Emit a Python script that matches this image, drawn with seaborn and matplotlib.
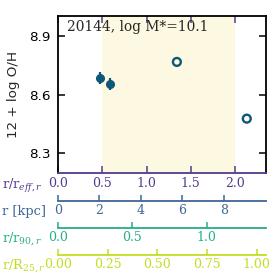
import numpy as np
import pandas as pd
import matplotlib
matplotlib.use("Agg")
import matplotlib.pyplot as plt
import seaborn as sns

# ---- data ----
filled_r = [0.474, 0.587]
filled_oh = [8.683, 8.654]
filled_err = [0.030, 0.031]
open_r = [1.343, 2.133]
open_oh = [8.766, 8.477]
label_text = "20144, log M*=10.1"
shade_range = [0.5, 2.0]
reff_ticks = [0.0, 0.5, 1.0, 1.5, 2.0]
kpc_ticks = [0, 2, 4, 6, 8]
r90_ticks = [0.0, 0.5, 1.0]
r25_ticks = [0.0, 0.25, 0.5, 0.75, 1.0]
oh_ticks = [8.3, 8.6, 8.9]
kpc_per_reff = 4.27
r90_per_reff = 0.5946
r25_per_reff = 0.4455

sns.set_style("ticks")
plt.rcParams['font.family'] = ['DejaVu Serif']
plt.rcParams['mathtext.fontset'] = 'dejavuserif'

col_pt = "#0d5878"
c_reff = "#553a8a"
c_kpc = "#3e6797"
c_r90 = "#26ad86"
c_r25 = "#c4dd22"
fs = 9
fs_lab = 9.4
fs_y = 9.7
fs_title = 9.9

fig = plt.figure(figsize=(2.77, 2.77), dpi=100)
ax = fig.add_axes([58/277, 1-173/277, 208/277, 157/277])

ax.axvspan(shade_range[0], shade_range[1], color="#fdf8e1", lw=0, zorder=0)
ax.errorbar(filled_r, filled_oh, yerr=filled_err, fmt='o', color=col_pt,
            ms=5.5, elinewidth=1.6, capsize=0, zorder=3)
df_open = pd.DataFrame({"r": open_r, "oh": open_oh})
sns.scatterplot(data=df_open, x="r", y="oh", ax=ax, s=32, facecolor="none",
                edgecolor=col_pt, linewidth=1.7, zorder=3)

ax.set_xlim(0, 2.35)
ax.set_ylim(8.2, 9.0)
ax.set_xticks(reff_ticks)
ax.set_xticklabels([f"{t:.1f}" for t in reff_ticks])
ax.set_yticks(oh_ticks)
ax.set_yticklabels([f"{t:.1f}" for t in oh_ticks], family='DejaVu Sans')
ax.set_xlabel("")
ax.set_ylabel("12 + log O/H", fontsize=fs_y, family='DejaVu Sans', labelpad=7)
ax.tick_params(axis='both', direction='in', length=5, width=1.1,
               top=True, right=True)
ax.tick_params(axis='x', colors=c_reff, pad=3, labelsize=fs)
ax.tick_params(axis='y', colors='black', pad=5, labelsize=fs_y)
for s in ['left', 'top', 'right']:
    ax.spines[s].set_linewidth(1.3)
    ax.spines[s].set_color('black')
ax.spines['bottom'].set_color(c_reff)
ax.spines['bottom'].set_linewidth(1.3)
ax.text(0.045, 0.975, label_text, transform=ax.transAxes, fontsize=fs_title,
        va='top', ha='left')

H = 157.0
def add_sec(loc_px, factor, ticks, fmt, color):
    loc = -(loc_px - 173) / H
    sec = ax.secondary_xaxis(loc, functions=(lambda x, f=factor: x * f,
                                             lambda x, f=factor: x / f))
    sec.set_xticks(ticks)
    sec.set_xticklabels([fmt.format(t) for t in ticks])
    sec.tick_params(direction='in', length=4, width=1.1, colors=color,
                    labelsize=fs, pad=2.5)
    sec.spines['bottom'].set_color(color)
    sec.spines['bottom'].set_linewidth(1.3)
    return sec

add_sec(201, kpc_per_reff, kpc_ticks, "{:d}", c_kpc)
add_sec(228, r90_per_reff, r90_ticks, "{:.1f}", c_r90)
add_sec(255, r25_per_reff, r25_ticks, "{:.2f}", c_r25)

labels = [("r/r$_{eff,r}$", 186, c_reff), ("r [kpc]", 212, c_kpc),
          ("r/r$_{90,r}$", 239, c_r90), ("r/R$_{25,r}$", 266, c_r25)]
for txt, ypx, c in labels:
    fig.text(1.5/277, 1 - ypx/277, txt, color=c, fontsize=fs_lab, ha='left', va='center')

fig.savefig("out.png", dpi=100)
